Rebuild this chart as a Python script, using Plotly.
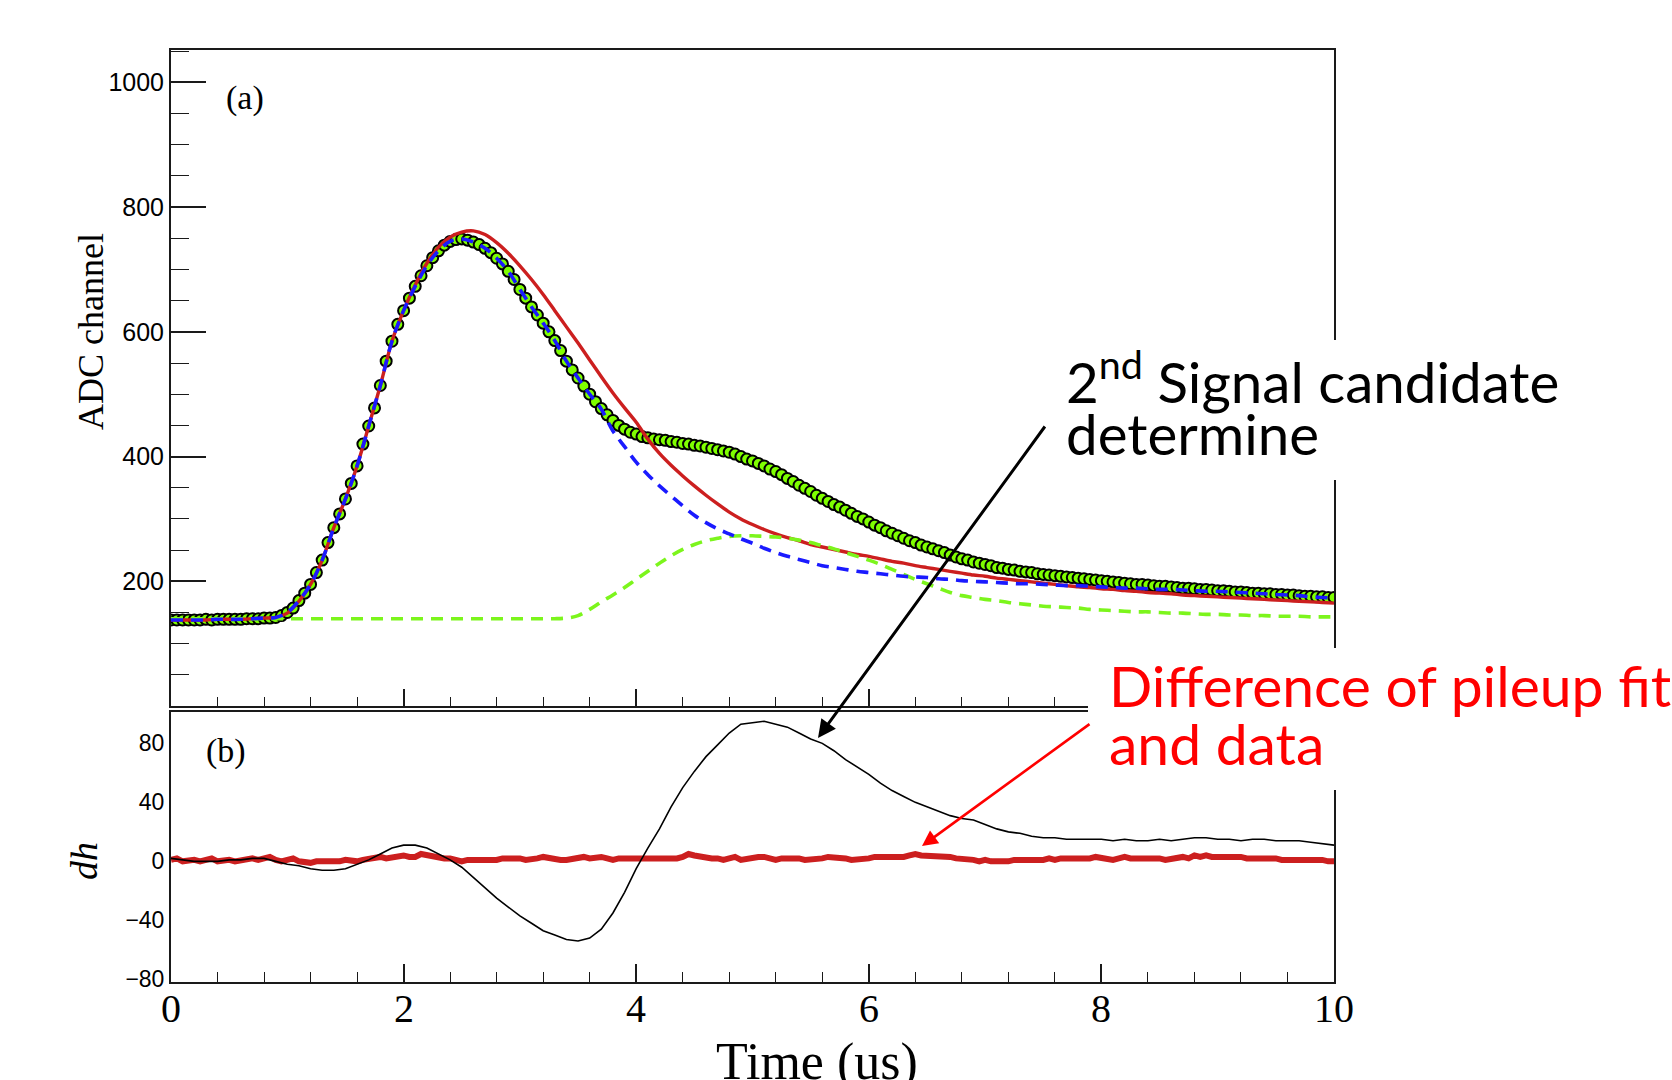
import plotly.graph_objects as go

# ---------------- data ----------------
t_data = [round(i * 0.05, 2) for i in range(201)]
adc_data = [
    138, 138, 138, 138, 138, 138, 139, 138, 139, 139, 139, 139, 139, 140, 140, 140, 141, 141, 142, 145,
    150, 157, 169, 181, 195, 214, 234, 262, 286, 308, 332, 357, 385, 420, 449, 478, 514, 553, 585, 612,
    634, 654, 673, 690, 706, 719, 730, 739, 745, 748, 749, 747, 744, 740, 734, 727, 718, 709, 697, 684,
    668, 654, 640, 627, 614, 600, 586, 570, 553, 539, 526, 513, 500, 488, 477, 467, 458, 450, 444, 439,
    436, 432, 430, 428, 427, 426, 424, 423, 421, 420, 418, 417, 415, 413, 411, 409, 407, 404, 400, 396,
    393, 389, 385, 380, 376, 371, 365, 360, 354, 349, 344, 338, 333, 328, 323, 319, 314, 309, 304, 300,
    295, 290, 286, 281, 277, 273, 269, 265, 262, 258, 255, 252, 249, 246, 242, 239, 236, 234, 231, 229,
    227, 225, 222, 221, 219, 218, 216, 215, 214, 212, 211, 210, 209, 208, 207, 206, 205, 204, 203, 202,
    201, 200, 199, 198, 197, 196, 195, 195, 194, 193, 192, 192, 191, 190, 189, 189, 188, 187, 187, 186,
    185, 185, 184, 183, 183, 182, 181, 181, 180, 180, 179, 179, 178, 178, 177, 176, 176, 175, 175, 174,
    174,
]

t_fit = [round(i * 0.1, 1) for i in range(101)]
single_fit = [
    138, 138, 138, 138, 139, 139, 139, 140, 141, 142,
    149, 168, 195, 234, 286, 332, 385, 449, 514, 585,
    634, 675, 710, 736, 752, 760, 762, 756, 743, 726,
    706, 684, 660, 634, 608, 582, 555, 528, 502, 478,
    455, 428, 405, 386, 369, 353, 338, 324, 311, 300,
    291, 283, 276, 270, 265, 259, 255, 251, 247, 243,
    240, 236, 232, 229, 225, 222, 219, 216, 213, 210,
    208, 205, 203, 201, 199, 197, 195, 193, 191, 190,
    188, 187, 185, 184, 182, 181, 180, 178, 177, 176,
    175, 174, 173, 172, 171, 170, 169, 168, 167, 166,
    165,
]
first_pulse = [
    138, 138, 138, 138, 139, 139, 139, 140, 141, 142,
    150, 169, 195, 234, 286, 332, 385, 449, 514, 585,
    634, 673, 706, 730, 745, 749, 744, 734, 718, 697,
    668, 640, 614, 586, 553, 526, 500, 476, 441, 416,
    391, 371, 353, 337, 321, 306, 294, 284, 276, 268,
    261, 253, 246, 240, 235, 230, 225, 222, 219, 216,
    214, 212, 210, 208, 207, 206, 204, 203, 201, 200,
    199, 198, 197, 196, 196, 195, 194, 193, 193, 192,
    191, 190, 189, 189, 188, 187, 187, 186, 185, 184,
    184, 183, 182, 181, 180, 179, 178, 177, 175, 174,
    173,
]
second_pulse = [
    140, 140, 140, 140, 140, 140, 140, 140, 140, 140,
    140, 140, 140, 140, 140, 140, 140, 140, 140, 140,
    140, 140, 140, 140, 140, 140, 140, 140, 140, 140,
    140, 140, 140, 140, 141, 145, 155, 167, 178, 190,
    203, 216, 229, 241, 251, 259, 265, 269, 272, 273,
    273, 272, 271, 269, 266, 262, 257, 252, 246, 240,
    234, 227, 219, 211, 203, 196, 189, 182, 177, 174,
    171, 169, 166, 164, 162, 160, 159, 158, 157, 155,
    154, 153, 152, 151, 151, 150, 149, 149, 148, 147,
    147, 146, 146, 145, 145, 144, 144, 144, 143, 143,
    143,
]
dh_single = [
    2, 1, 0, 0, 0, 1, 1, 2, 2, 0,
    -2, -3, -5, -6, -6, -5, -2, 1, 5, 9,
    11, 11, 9, 5, 1, -4, -11, -18, -25, -31,
    -37, -42, -47, -50, -53, -54, -52, -46, -35, -21,
    -5, 9, 22, 37, 50, 61, 71, 79, 87, 93,
    94, 95, 93, 91, 87, 83, 80, 75, 69, 64,
    59, 53, 48, 44, 40, 37, 34, 31, 29, 28,
    25, 22, 20, 19, 17, 16, 16, 15, 15, 15,
    15, 14, 15, 14, 14, 15, 14, 15, 16, 16,
    15, 15, 14, 15, 15, 14, 14, 14, 13, 12,
    11,
]
dh_pileup = [
    1, 2, 0, 1, 1, 0, 1, 2, 0, 1, 1, 0, 1, 2, 2, 1, 2, 3, 1, 0,
    1, 2, 0, -1, -1, 0, 0, -1, -1, 0, 1, 0, 0, 1, 2, 3, 3, 2, 3, 4,
    4, 3, 3, 5, 4, 3, 3, 2, 2, 1, 0, 1, 1, 0, 0, 1, 1, 2, 2, 3,
    2, 1, 1, 2, 3, 2, 2, 1, 1, 2, 2, 3, 2, 3, 3, 2, 1, 2, 2, 1,
    1, 2, 2, 1, 2, 1, 1, 2, 3, 5, 4, 3, 3, 2, 2, 1, 2, 3, 1, 2,
    2, 3, 3, 2, 1, 2, 2, 3, 2, 1, 1, 2, 2, 3, 3, 2, 2, 1, 1, 2,
    2, 3, 3, 2, 2, 3, 3, 4, 5, 4, 4, 3, 4, 3, 3, 2, 2, 1, 1, 0,
    1, 0, 0, -1, 0, 1, 1, 0, 0, 1, 1, 2, 1, 2, 2, 1, 1, 2, 2, 3,
    2, 2, 1, 2, 3, 2, 2, 3, 3, 2, 2, 1, 2, 3, 3, 2, 4, 3, 4, 3,
    3, 4, 4, 3, 3, 2, 2, 3, 3, 2, 2, 1, 1, 2, 2, 1, 1, 2, 1, 0,
    0,
]
x_ticks = [0, 2, 4, 6, 8, 10]
x_tick_text = ["0", "2", "4", "6", "8", "10"]
adc_ticks = [200, 400, 600, 800, 1000]
dh_ticks = [-80, -40, 0, 40, 80]

# ---------------- geometry helpers (pixel -> paper) ----------------
W, H = 1672, 1080
L, R, T, B = 171, 1334, 50, 982


def fx(p):
    return (p - L) / (R - L)


def fy(p):
    return (B - p) / (B - T)


SERIF = "Liberation Serif"
SANS = "Liberation Sans"
CAL = "Lato"
AX = "#1a1a1a"

fig = go.Figure()

# top panel
fig.add_trace(go.Scatter(x=t_data, y=adc_data, mode="markers", xaxis="x", yaxis="y",
                         marker=dict(symbol="circle", size=11, color="#7fff00",
                                     line=dict(color="black", width=2))))
fig.add_trace(go.Scatter(x=t_fit, y=single_fit, mode="lines", xaxis="x", yaxis="y",
                         line=dict(color="#cc1f1f", width=3.4, shape="spline", smoothing=0.8)))
fig.add_trace(go.Scatter(x=t_fit, y=second_pulse, mode="lines", xaxis="x", yaxis="y",
                         line=dict(color="#7cf51c", width=3.6, dash="12px,8px", shape="spline")))
fig.add_trace(go.Scatter(x=t_fit, y=first_pulse, mode="lines", xaxis="x", yaxis="y",
                         line=dict(color="#1a1aff", width=3.6, dash="12px,8px", shape="spline")))
# bottom panel
fig.add_trace(go.Scatter(x=t_data, y=dh_pileup, mode="lines", xaxis="x2", yaxis="y2",
                         line=dict(color="#cc1f1f", width=6)))
fig.add_trace(go.Scatter(x=t_fit, y=dh_single, mode="lines", xaxis="x2", yaxis="y2",
                         line=dict(color="black", width=1.6)))

common_line = dict(showline=True, linewidth=2, linecolor=AX, mirror=True,
                   showgrid=False, zeroline=False)

fig.update_layout(
    width=W, height=H,
    margin=dict(l=L, r=W - R, t=T, b=H - B),
    paper_bgcolor="white", plot_bgcolor="white",
    showlegend=False,
    xaxis=dict(domain=[0, 1], anchor="y", range=[0, 10], tickvals=x_ticks,
               showticklabels=False, ticks="inside", ticklen=17, tickwidth=1.6, tickcolor=AX,
               minor=dict(ticks="inside", ticklen=9, tickwidth=1.4, tickcolor=AX, dtick=0.4, tick0=0),
               **common_line),
    yaxis=dict(domain=[fy(706), 1], anchor="x", range=[0, 1052], tickvals=adc_ticks,
               ticks="inside", ticklen=35, tickwidth=1.6, tickcolor=AX,
               tickfont=dict(family=SANS, size=25, color="black"),
               minor=dict(ticks="inside", ticklen=18, tickwidth=1.4, tickcolor=AX,
                          tickvals=[v for v in range(50, 1051, 50) if v % 200]),
               **common_line),
    xaxis2=dict(domain=[0, 1], anchor="y2", range=[0, 10], tickvals=x_ticks,
                showticklabels=False, ticks="inside", ticklen=18, tickwidth=1.6, tickcolor=AX,
                minor=dict(ticks="inside", ticklen=10, tickwidth=1.4, tickcolor=AX, dtick=0.4, tick0=0),
                **common_line),
    yaxis2=dict(domain=[0, fy(711.5)], anchor="x2", range=[-81.8, 101.6], tickvals=dh_ticks,
                ticks="", tickfont=dict(family=SANS, size=23, color="black"),
                **common_line),
)

# white boxes of the overlaid text (they hide parts of the frame)
fig.add_shape(type="rect", xref="paper", yref="paper", x0=fx(1060), x1=fx(1672), y0=fy(480), y1=fy(340),
              fillcolor="white", line=dict(width=0), layer="above")
fig.add_shape(type="rect", xref="paper", yref="paper", x0=fx(1088), x1=fx(1672), y0=fy(790), y1=fy(648),
              fillcolor="white", line=dict(width=0), layer="above")

ann = []


def txt(text, x, y, size, family, color="black", angle=0, xa="center", xref="paper"):
    ann.append(dict(text=text, x=(fx(x) if xref == "paper" else x), y=fy(y), xref=xref, yref="paper",
                    showarrow=False, xanchor=xa, yanchor="middle", textangle=angle,
                    font=dict(family=family, size=size, color=color)))


# x tick labels of the lower panel, placed through the x2 axis scale
for v, s in zip(x_ticks, x_tick_text):
    txt(s, v, 1008, 40, SERIF, xref="x2")

txt("(a)", 245, 98, 34, SERIF)
txt("(b)", 226, 751, 34, SERIF)
txt("ADC channel", 91, 332, 36, SERIF, angle=-90)
txt("<i>dh</i>", 84, 861, 38, SERIF, angle=-90)
txt("Time (us)", 817, 1062, 52, SERIF)
txt("2<sup>nd</sup> Signal candidate", 1064, 377, 56.5, CAL, xa="left")
txt("determine", 1064, 433, 56.5, CAL, xa="left")
txt("Difference of pileup fit", 1107, 685, 57, CAL, color="#ff0000", xa="left")
txt("and data", 1107, 743, 57, CAL, color="#ff0000", xa="left")

# arrows
ann.append(dict(text="", x=fx(818), y=fy(738), xref="paper", yref="paper", showarrow=True,
                ax=1046 - 818, ay=425 - 738, axref="pixel", ayref="pixel",
                arrowhead=2, arrowsize=1.2, arrowwidth=3, arrowcolor="black", standoff=0))
ann.append(dict(text="", x=fx(922), y=fy(846), xref="paper", yref="paper", showarrow=True,
                ax=1091 - 922, ay=723 - 846, axref="pixel", ayref="pixel",
                arrowhead=2, arrowsize=1.2, arrowwidth=2.6, arrowcolor="#ff0000", standoff=0))

fig.update_layout(annotations=ann)

fig.write_html("out.html")
